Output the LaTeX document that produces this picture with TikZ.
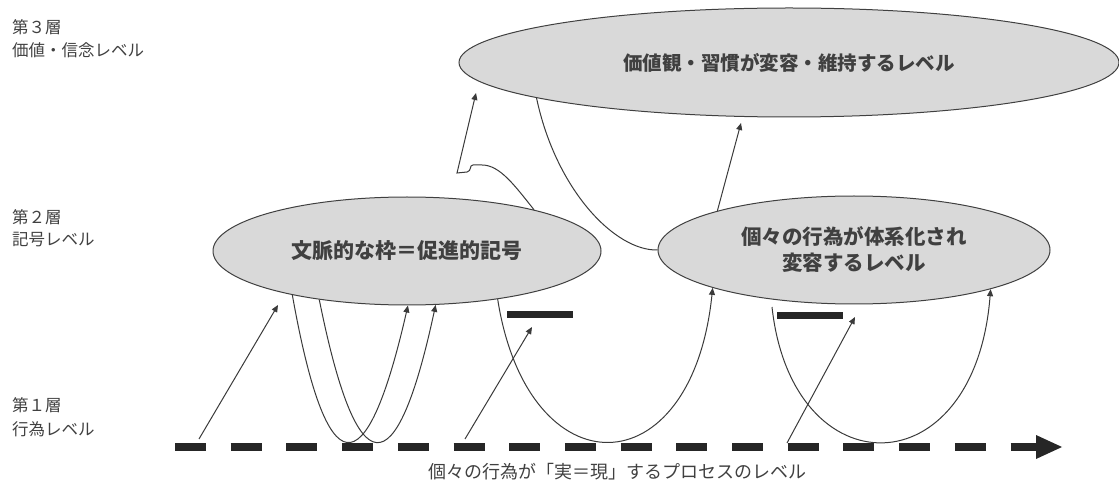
\documentclass[tikz,border=0pt]{standalone}
\usepackage{fontspec}
\setmainfont{Noto Sans CJK JP}
\usetikzlibrary{shapes.geometric,arrows.meta}
\definecolor{ln}{HTML}{3A3A3A}
\definecolor{fl}{HTML}{D9D9D9}
\definecolor{tx}{HTML}{404040}
\definecolor{barc}{HTML}{262626}
\begin{document}
\begin{tikzpicture}[x=1pt,y=-1pt,
  lvl/.style={ellipse, draw=tx, line width=1pt, fill=fl, inner sep=0pt, text=tx, align=center},
  conn/.style={draw=ln, line width=1pt},
  arr/.style={conn, -{Triangle[length=7pt,width=6pt]}},
  lab/.style={anchor=west, text=tx, inner sep=0pt, font=\fontsize{16.5}{20}\selectfont},
  barbox/.style={fill=barc, minimum width=66pt, minimum height=7pt, inner sep=0pt}]
\useasboundingbox (0,0) rectangle (1119,486);

% level labels
\node[lab] (l3a) at (12,27) {第３層};
\node[lab] (l3b) at (12,50) {価値・信念レベル};
\node[lab] (l2a) at (12,217) {第２層};
\node[lab] (l2b) at (12,240) {記号レベル};
\node[lab] (l1a) at (12,405) {第１層};
\node[lab] (l1b) at (12,429) {行為レベル};

% ellipses
\node[lvl, minimum width=660pt, minimum height=109pt, font=\bfseries\fontsize{19.5}{24}\selectfont] (e3) at (789,62.5) {価値観・習慣が変容・維持するレベル};
\node[lvl, minimum width=388pt, minimum height=108pt, font=\bfseries\fontsize{21}{26}\selectfont] (e2l) at (407,251) {文脈的な枠＝促進的記号};
\node[lvl, minimum width=392pt, minimum height=108pt, font=\bfseries\fontsize{20.5}{26}\selectfont] (e2r) at (854,250) {個々の行為が体系化され\\変容するレベル};

% bars
\node[barbox] (b1) at (540,314.5) {};
\node[barbox] (b2) at (810,316) {};

% free coordinates
\coordinate (a1s) at (199,439); \coordinate (a1e) at (278,305);
\coordinate (a4s) at (465,439); \coordinate (a4e) at (532,327);
\coordinate (a7s) at (787,443); \coordinate (a7e) at (855,317);
\coordinate (c6s) at (772,307);
\coordinate (c8e) at (476,93);
\coordinate (c10e) at (741,123);
\coordinate (axs) at (175,447); \coordinate (axe) at (1037,447);

% axis
\draw[barc, line width=8pt, dash pattern=on 31pt off 24.7pt] (axs) -- (axe);
\fill[barc] (1036,435) -- (1062,447) -- (1036,459) -- cycle;

% straight arrows
\draw[arr] (a1s) -- (a1e);
\draw[arr] (a4s) -- (a4e);
\draw[arr] (a7s) -- (a7e);
\draw[arr] (e2r.164.6) -- (c10e);

% curves
\draw[arr] (e2l.201.6) .. controls (326.7,487.3) and (365.7,490.3) .. (e2l.271);
\draw[arr] (e2l.209.4) .. controls (357,487.3) and (396,489.3) .. (e2l.298.6);
\draw[arr] (e2l.332.7) .. controls (528,492) and (692,490) .. (e2r.195);
\draw[arr] (c6s) .. controls (792,490) and (975,490) .. (e2r.344.7);
\draw[conn] (e3.188.9) .. controls (556,190) and (615,251) .. (e2r.180);
\draw[arr] (e2l.18.4) .. controls (515,186) and (500,165) .. (482,165) -- (473,165)
   .. controls (469,165) and (472,171) .. (467,172) -- (457,173) -- (c8e);

% caption
\node[text=tx, font=\fontsize{18}{22}\selectfont] (cap) at (617,472) {個々の行為が「実＝現」するプロセスのレベル};
\end{tikzpicture}
\end{document}
